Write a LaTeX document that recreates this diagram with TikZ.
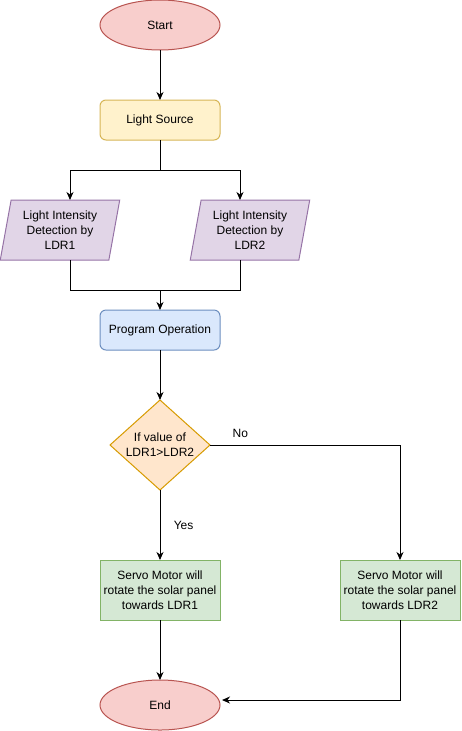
\documentclass[tikz,border=0pt]{standalone}
\usepackage{fontspec}
\setmainfont{Liberation Sans}
\usetikzlibrary{positioning,shapes.geometric,arrows.meta}

\definecolor{termfill}{HTML}{F8CECC}
\definecolor{termline}{HTML}{B85450}
\definecolor{srcfill}{HTML}{FFF2CC}
\definecolor{srcline}{HTML}{D6B656}
\definecolor{detfill}{HTML}{E1D5E7}
\definecolor{detline}{HTML}{9673A6}
\definecolor{progfill}{HTML}{DAE8FC}
\definecolor{progline}{HTML}{6C8EBF}
\definecolor{decfill}{HTML}{FFE6CC}
\definecolor{decline}{HTML}{D79B00}
\definecolor{actfill}{HTML}{D5E8D4}
\definecolor{actline}{HTML}{82B366}

\tikzset{
	base/.style={draw, line width=1pt, align=center, inner sep=0pt, outer sep=0pt},
	terminal/.style={base, ellipse, fill=termfill, draw=termline, minimum width=120pt, minimum height=50pt},
	source/.style={base, rectangle, rounded corners=6pt, fill=srcfill, draw=srcline, minimum width=120pt, minimum height=40pt},
	detect/.style={base, trapezium, trapezium left angle=78, trapezium right angle=102, trapezium stretches=true, fill=detfill, draw=detline, minimum width=120pt, minimum height=60pt},
	process/.style={base, rectangle, rounded corners=6pt, fill=progfill, draw=progline, minimum width=120pt, minimum height=40pt},
	decision/.style={base, diamond, aspect=1.11, fill=decfill, draw=decline, minimum width=100pt, minimum height=90pt},
	action/.style={base, rectangle, fill=actfill, draw=actline, minimum width=120pt, minimum height=60pt},
	flow/.style={line width=1pt, -{Stealth[length=8pt,width=7pt,inset=2.5pt]}},
	line/.style={line width=1pt}
}

\begin{document}
\begin{tikzpicture}[x=1pt, y=1pt, font=\fontsize{12}{15}\selectfont]
	\useasboundingbox (0,0) rectangle (461,-731);

	\node [terminal] (start) at (160,-25) {Start};
	\node [source, below=50pt of start] (light) {Light Source};

	\node [detect, below=60pt of light, xshift=-100pt] (ldr1) {Light Intensity\\Detection by\\LDR1};
	\node [detect, below=60pt of light, xshift=90pt] (ldr2) {Light Intensity\\Detection by\\LDR2};

	\node [process, below=50pt of ldr1, xshift=100pt] (prog) {Program Operation};
	\node [decision, below=50pt of prog] (dec) {If value of\\LDR1>LDR2};

	\node [action, below=70pt of dec] (act1) {Servo Motor will\\rotate the solar panel\\towards LDR1};
	\node [action, right=120pt of act1] (act2) {Servo Motor will\\rotate the solar panel\\towards LDR2};

	\node [terminal, below=60pt of act1] (fin) {End};

	\coordinate [below=30pt of light] (split);
	\coordinate [above=20pt of prog] (join);

	\draw [flow] (start) -- (light);
	\draw [line] (light) -- (split);
	\draw [flow] (split) -| ([xshift=10pt]ldr1.north);
	\draw [flow] (split) -| ([xshift=-10pt]ldr2.north);

	\draw [line] ([xshift=10pt]ldr1.south) |- (join) -| ([xshift=-10pt]ldr2.south);
	\draw [flow] (join) -- (prog);
	\draw [flow] (prog) -- (dec);

	\draw [flow] (dec) -- node [right=10pt] {Yes} (act1);
	\draw [flow] (dec.east) -| node [pos=0.08, above=4pt] {No} (act2.north);

	\draw [flow] (act1) -- (fin);
	\draw [flow] (act2.south) |- ([xshift=62pt, yshift=5pt]fin.center);
\end{tikzpicture}
\end{document}
